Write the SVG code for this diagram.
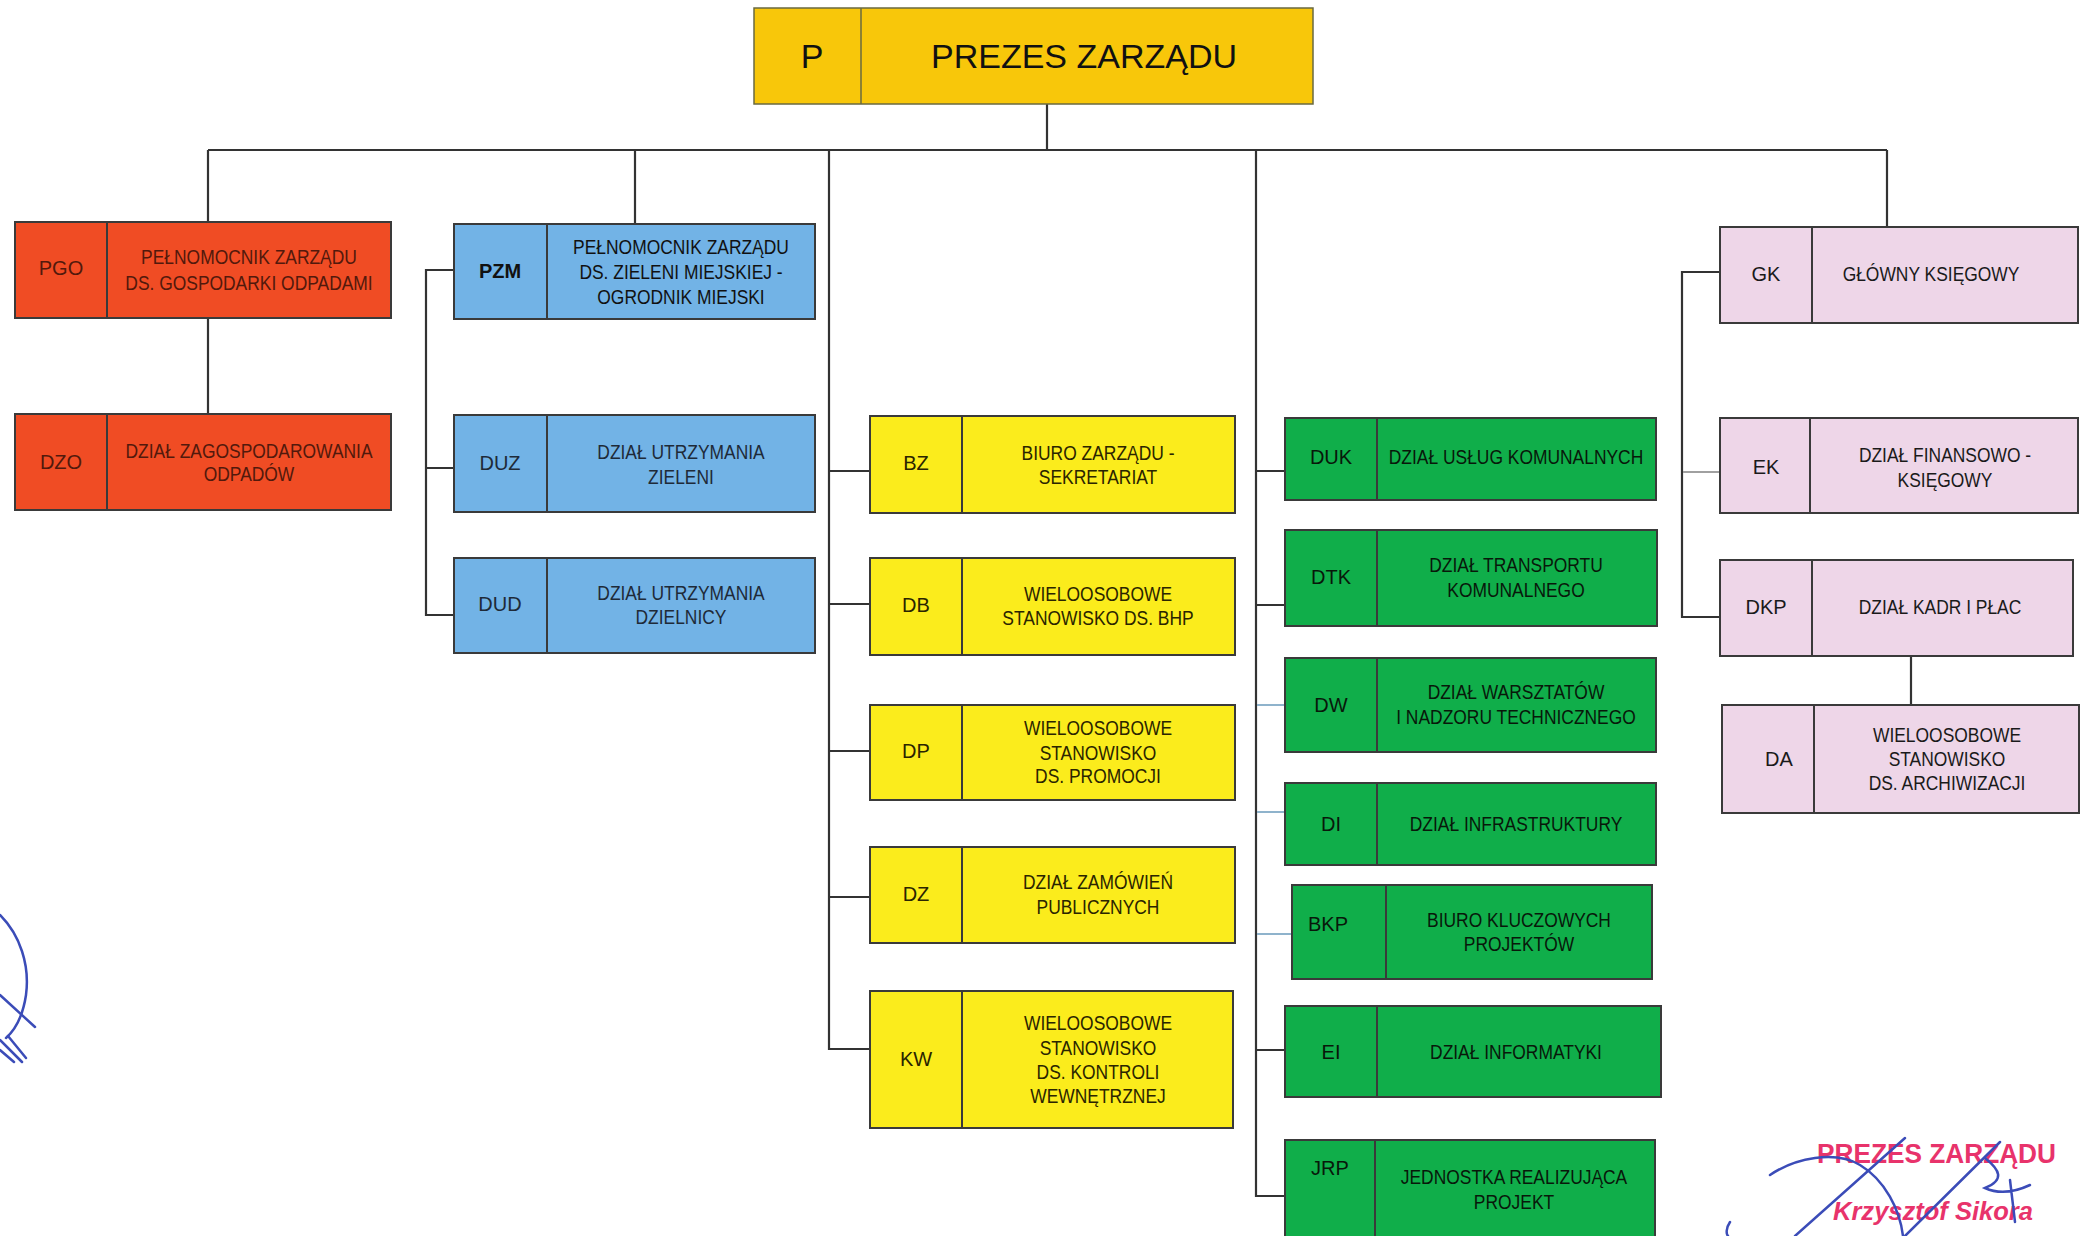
<svg xmlns="http://www.w3.org/2000/svg" width="2084" height="1236" viewBox="0 0 2084 1236">
<style>
  .box{stroke:#3a3a3a;stroke-width:2}
  .div{stroke:#3a3a3a;stroke-width:2}
  .red{fill:#f04c24}
  .blue{fill:#72b3e6}
  .yel{fill:#fbec1c}
  .grn{fill:#10ae4a}
  .pnk{fill:#eed6e8}
  .code{font-family:"Liberation Sans",Arial,sans-serif;font-size:20px;text-anchor:middle}
  .txt{font-family:"Liberation Sans",Arial,sans-serif;font-size:21px;text-anchor:middle}
  .tr{fill:#52190c}
  .tb{fill:#1e2a38}
  .ty{fill:#2a2400}
  .tg{fill:#08180a}
  .tp{fill:#1a1a1a}
  .ln{stroke:#333;stroke-width:2.2;fill:none}
  .lnl{stroke:#8fb3cc;stroke-width:2;fill:none}
  .lng{stroke:#a0a0a0;stroke-width:2;fill:none}
  .sig{stroke:#3b4cb8;stroke-width:2.5;fill:none;stroke-linecap:round}
</style>

<g id="connectors">
  <path class="ln" d="M1047,104 V150 M208,150 H1887 M208,150 V222 M208,318 V414 M635,150 V224"/>
  <path class="ln" d="M454,270 H426 V615 H454 M426,468 H454"/>
  <path class="ln" d="M829,150 V1049 H870 M829,471 H870 M829,604 H870 M829,751 H870 M829,897 H870"/>
  <path class="ln" d="M1256,150 V1196 H1285 M1256,471 H1285 M1256,605 H1285 M1256,1050 H1285"/>
  <path class="lnl" d="M1257,705 H1285 M1257,812 H1285 M1257,934 H1292"/>
  <path class="ln" d="M1887,150 V227 M1720,272 H1682 V617 H1720 M1911,656 V705"/>
  <path class="lng" d="M1683,472 H1720"/>
</g>

<g id="P">
  <rect x="754" y="8" width="559" height="96" fill="#f8c70a" stroke="#6a6a40" stroke-width="1.5"/>
  <line x1="861" y1="8" x2="861" y2="104" stroke="#6a6a40" stroke-width="1.5"/>
  <text x="812" y="68" style="font-family:'Liberation Sans',sans-serif;font-size:34px;text-anchor:middle" fill="#111">P</text>
  <text x="1084" y="68" style="font-family:'Liberation Sans',sans-serif;font-size:34px;text-anchor:middle" fill="#111">PREZES ZARZĄDU</text>
</g>

<g id="PGO">
  <rect class="box red" x="15" y="222" width="376" height="96"/>
  <line class="div" x1="107" y1="222" x2="107" y2="318"/>
  <text class="code tr" x="61" y="275">PGO</text>
  <g class="txt tr" transform="translate(249,0) scale(0.83,1)">
    <text x="0" y="264">PEŁNOMOCNIK ZARZĄDU</text>
    <text x="0" y="290">DS. GOSPODARKI ODPADAMI</text>
  </g>
</g>
<g id="DZO">
  <rect class="box red" x="15" y="414" width="376" height="96"/>
  <line class="div" x1="107" y1="414" x2="107" y2="510"/>
  <text class="code tr" x="61" y="469">DZO</text>
  <g class="txt tr" transform="translate(249,0) scale(0.83,1)">
    <text x="0" y="458">DZIAŁ ZAGOSPODAROWANIA</text>
    <text x="0" y="481">ODPADÓW</text>
  </g>
</g>

<g id="PZM">
  <rect class="box blue" x="454" y="224" width="361" height="95"/>
  <line class="div" x1="547" y1="224" x2="547" y2="319"/>
  <text class="code" x="500" y="278" fill="#111" font-weight="bold">PZM</text>
  <g class="txt" fill="#111" transform="translate(681,0) scale(0.83,1)">
    <text x="0" y="254">PEŁNOMOCNIK ZARZĄDU</text>
    <text x="0" y="279">DS. ZIELENI MIEJSKIEJ -</text>
    <text x="0" y="304">OGRODNIK MIEJSKI</text>
  </g>
</g>
<g id="DUZ">
  <rect class="box blue" x="454" y="415" width="361" height="97"/>
  <line class="div" x1="547" y1="415" x2="547" y2="512"/>
  <text class="code tb" x="500" y="470">DUZ</text>
  <g class="txt tb" transform="translate(681,0) scale(0.83,1)">
    <text x="0" y="459">DZIAŁ UTRZYMANIA</text>
    <text x="0" y="484">ZIELENI</text>
  </g>
</g>
<g id="DUD">
  <rect class="box blue" x="454" y="558" width="361" height="95"/>
  <line class="div" x1="547" y1="558" x2="547" y2="653"/>
  <text class="code tb" x="500" y="611">DUD</text>
  <g class="txt tb" transform="translate(681,0) scale(0.83,1)">
    <text x="0" y="600">DZIAŁ UTRZYMANIA</text>
    <text x="0" y="624">DZIELNICY</text>
  </g>
</g>

<g id="BZ">
  <rect class="box yel" x="870" y="416" width="365" height="97"/>
  <line class="div" x1="962" y1="416" x2="962" y2="513"/>
  <text class="code ty" x="916" y="470">BZ</text>
  <g class="txt ty" transform="translate(1098,0) scale(0.83,1)">
    <text x="0" y="460">BIURO ZARZĄDU -</text>
    <text x="0" y="484">SEKRETARIAT</text>
  </g>
</g>
<g id="DB">
  <rect class="box yel" x="870" y="558" width="365" height="97"/>
  <line class="div" x1="962" y1="558" x2="962" y2="655"/>
  <text class="code ty" x="916" y="612">DB</text>
  <g class="txt ty" transform="translate(1098,0) scale(0.83,1)">
    <text x="0" y="601">WIELOOSOBOWE</text>
    <text x="0" y="625">STANOWISKO DS. BHP</text>
  </g>
</g>
<g id="DP">
  <rect class="box yel" x="870" y="705" width="365" height="95"/>
  <line class="div" x1="962" y1="705" x2="962" y2="800"/>
  <text class="code ty" x="916" y="758">DP</text>
  <g class="txt ty" transform="translate(1098,0) scale(0.83,1)">
    <text x="0" y="735">WIELOOSOBOWE</text>
    <text x="0" y="760">STANOWISKO</text>
    <text x="0" y="783">DS. PROMOCJI</text>
  </g>
</g>
<g id="DZ">
  <rect class="box yel" x="870" y="847" width="365" height="96"/>
  <line class="div" x1="962" y1="847" x2="962" y2="943"/>
  <text class="code ty" x="916" y="901">DZ</text>
  <g class="txt ty" transform="translate(1098,0) scale(0.83,1)">
    <text x="0" y="889">DZIAŁ ZAMÓWIEŃ</text>
    <text x="0" y="914">PUBLICZNYCH</text>
  </g>
</g>
<g id="KW">
  <rect class="box yel" x="870" y="991" width="363" height="137"/>
  <line class="div" x1="962" y1="991" x2="962" y2="1128"/>
  <text class="code ty" x="916" y="1066">KW</text>
  <g class="txt ty" transform="translate(1098,0) scale(0.83,1)">
    <text x="0" y="1030">WIELOOSOBOWE</text>
    <text x="0" y="1055">STANOWISKO</text>
    <text x="0" y="1079">DS. KONTROLI</text>
    <text x="0" y="1103">WEWNĘTRZNEJ</text>
  </g>
</g>

<g id="DUK">
  <rect class="box grn" x="1285" y="418" width="371" height="82"/>
  <line class="div" x1="1377" y1="418" x2="1377" y2="500"/>
  <text class="code tg" x="1331" y="464">DUK</text>
  <g class="txt tg" transform="translate(1516,0) scale(0.83,1)">
    <text x="0" y="464">DZIAŁ USŁUG KOMUNALNYCH</text>
  </g>
</g>
<g id="DTK">
  <rect class="box grn" x="1285" y="530" width="372" height="96"/>
  <line class="div" x1="1377" y1="530" x2="1377" y2="626"/>
  <text class="code tg" x="1331" y="584">DTK</text>
  <g class="txt tg" transform="translate(1516,0) scale(0.83,1)">
    <text x="0" y="572">DZIAŁ TRANSPORTU</text>
    <text x="0" y="597">KOMUNALNEGO</text>
  </g>
</g>
<g id="DW">
  <rect class="box grn" x="1285" y="658" width="371" height="94"/>
  <line class="div" x1="1377" y1="658" x2="1377" y2="752"/>
  <text class="code tg" x="1331" y="712">DW</text>
  <g class="txt tg" transform="translate(1516,0) scale(0.83,1)">
    <text x="0" y="699">DZIAŁ WARSZTATÓW</text>
    <text x="0" y="724">I NADZORU TECHNICZNEGO</text>
  </g>
</g>
<g id="DI">
  <rect class="box grn" x="1285" y="783" width="371" height="82"/>
  <line class="div" x1="1377" y1="783" x2="1377" y2="865"/>
  <text class="code tg" x="1331" y="831">DI</text>
  <g class="txt tg" transform="translate(1516,0) scale(0.83,1)">
    <text x="0" y="831">DZIAŁ INFRASTRUKTURY</text>
  </g>
</g>
<g id="BKP">
  <rect class="box grn" x="1292" y="885" width="360" height="94"/>
  <line class="div" x1="1386" y1="885" x2="1386" y2="979"/>
  <text class="code tg" x="1328" y="931">BKP</text>
  <g class="txt tg" transform="translate(1519,0) scale(0.83,1)">
    <text x="0" y="927">BIURO KLUCZOWYCH</text>
    <text x="0" y="951">PROJEKTÓW</text>
  </g>
</g>
<g id="EI">
  <rect class="box grn" x="1285" y="1006" width="376" height="91"/>
  <line class="div" x1="1377" y1="1006" x2="1377" y2="1097"/>
  <text class="code tg" x="1331" y="1059">EI</text>
  <g class="txt tg" transform="translate(1516,0) scale(0.83,1)">
    <text x="0" y="1059">DZIAŁ INFORMATYKI</text>
  </g>
</g>
<g id="JRP">
  <rect class="box grn" x="1285" y="1140" width="370" height="110"/>
  <line class="div" x1="1375" y1="1140" x2="1375" y2="1250"/>
  <text class="code tg" x="1330" y="1175">JRP</text>
  <g class="txt tg" transform="translate(1514,0) scale(0.83,1)">
    <text x="0" y="1184">JEDNOSTKA REALIZUJĄCA</text>
    <text x="0" y="1209">PROJEKT</text>
  </g>
</g>

<g id="GK">
  <rect class="box pnk" x="1720" y="227" width="358" height="96"/>
  <line class="div" x1="1812" y1="227" x2="1812" y2="323"/>
  <text class="code tp" x="1766" y="281">GK</text>
  <g class="txt tp" transform="translate(1931,0) scale(0.83,1)">
    <text x="0" y="281">GŁÓWNY KSIĘGOWY</text>
  </g>
</g>
<g id="EK">
  <rect class="box pnk" x="1720" y="418" width="358" height="95"/>
  <line class="div" x1="1810" y1="418" x2="1810" y2="513"/>
  <text class="code tp" x="1766" y="474">EK</text>
  <g class="txt tp" transform="translate(1945,0) scale(0.83,1)">
    <text x="0" y="462">DZIAŁ FINANSOWO -</text>
    <text x="0" y="487">KSIĘGOWY</text>
  </g>
</g>
<g id="DKP">
  <rect class="box pnk" x="1720" y="560" width="353" height="96"/>
  <line class="div" x1="1812" y1="560" x2="1812" y2="656"/>
  <text class="code tp" x="1766" y="614">DKP</text>
  <g class="txt tp" transform="translate(1940,0) scale(0.83,1)">
    <text x="0" y="614">DZIAŁ KADR I PŁAC</text>
  </g>
</g>
<g id="DA">
  <rect class="box pnk" x="1722" y="705" width="357" height="108"/>
  <line class="div" x1="1814" y1="705" x2="1814" y2="813"/>
  <text class="code tp" x="1779" y="766">DA</text>
  <g class="txt tp" transform="translate(1947,0) scale(0.83,1)">
    <text x="0" y="742">WIELOOSOBOWE</text>
    <text x="0" y="766">STANOWISKO</text>
    <text x="0" y="790">DS. ARCHIWIZACJI</text>
  </g>
</g>

<g id="signature-left">
  <path class="sig" d="M0,915 C20,935 30,965 26,995 C23,1015 15,1030 6,1038"/>
  <path class="sig" d="M0,995 L35,1027"/>
  <path class="sig" d="M0,1040 L22,1062 M0,1050 L14,1062 M8,1036 L26,1058"/>
</g>

<g id="stamp">
  <text x="1817" y="1163" textLength="239" lengthAdjust="spacingAndGlyphs" style="font-family:'Liberation Sans',sans-serif;font-size:27px;font-weight:bold" fill="#e8336b">PREZES ZARZĄDU</text>
  <text x="1833" y="1220" textLength="200" lengthAdjust="spacingAndGlyphs" style="font-family:'Liberation Sans',sans-serif;font-size:25px;font-weight:bold;font-style:italic" fill="#e8336b">Krzysztof Sikora</text>
  <path class="sig" d="M1770,1175 C1795,1158 1835,1150 1860,1165 C1885,1180 1900,1210 1903,1236"/>
  <path class="sig" d="M1795,1236 L1905,1138"/>
  <path class="sig" d="M1730,1222 C1726,1228 1726,1234 1728,1236"/>
  <path class="sig" d="M1905,1236 L2000,1142"/>
  <path class="sig" d="M1985,1158 C2000,1170 2005,1180 1985,1188 C2000,1195 2015,1192 2030,1185 M2010,1180 L2015,1222"/>
</g>
</svg>
